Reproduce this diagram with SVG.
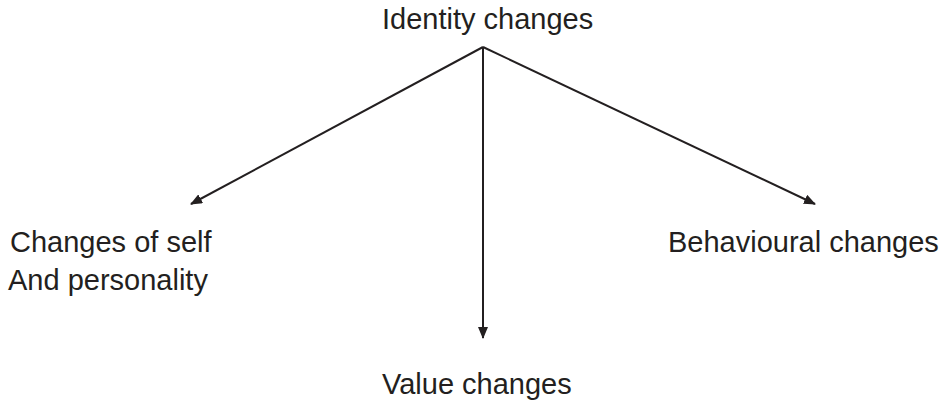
<svg xmlns="http://www.w3.org/2000/svg" width="950" height="407" viewBox="0 0 950 407">
<style>
text{font-family:"Liberation Sans",Arial,sans-serif;font-size:29px;fill:#231f20}
.c{stroke:#231f20;stroke-width:2;fill:none}
</style>
<defs>
<marker id="ah" viewBox="0 0 12 10" refX="11" refY="5" markerWidth="12" markerHeight="10" markerUnits="userSpaceOnUse" orient="auto">
<path d="M0,0 L12,5 L0,10 z" fill="#231f20"/>
</marker>
</defs>
<rect width="950" height="407" fill="#fff"/>
<g id="connectors">
<line class="c" x1="483" y1="47" x2="191" y2="204" marker-end="url(#ah)"/>
<line class="c" x1="483" y1="47" x2="815" y2="204" marker-end="url(#ah)"/>
<line class="c" x1="483" y1="47" x2="483" y2="338" marker-end="url(#ah)"/>
</g>
<g id="identity"><text x="382" y="29">Identity changes</text></g>
<g id="self"><text x="10" y="252">Changes of self</text><text x="8" y="290">And personality</text></g>
<g id="behaviour"><text x="668" y="252">Behavioural changes</text></g>
<g id="value"><text x="382" y="394">Value changes</text></g>
</svg>
